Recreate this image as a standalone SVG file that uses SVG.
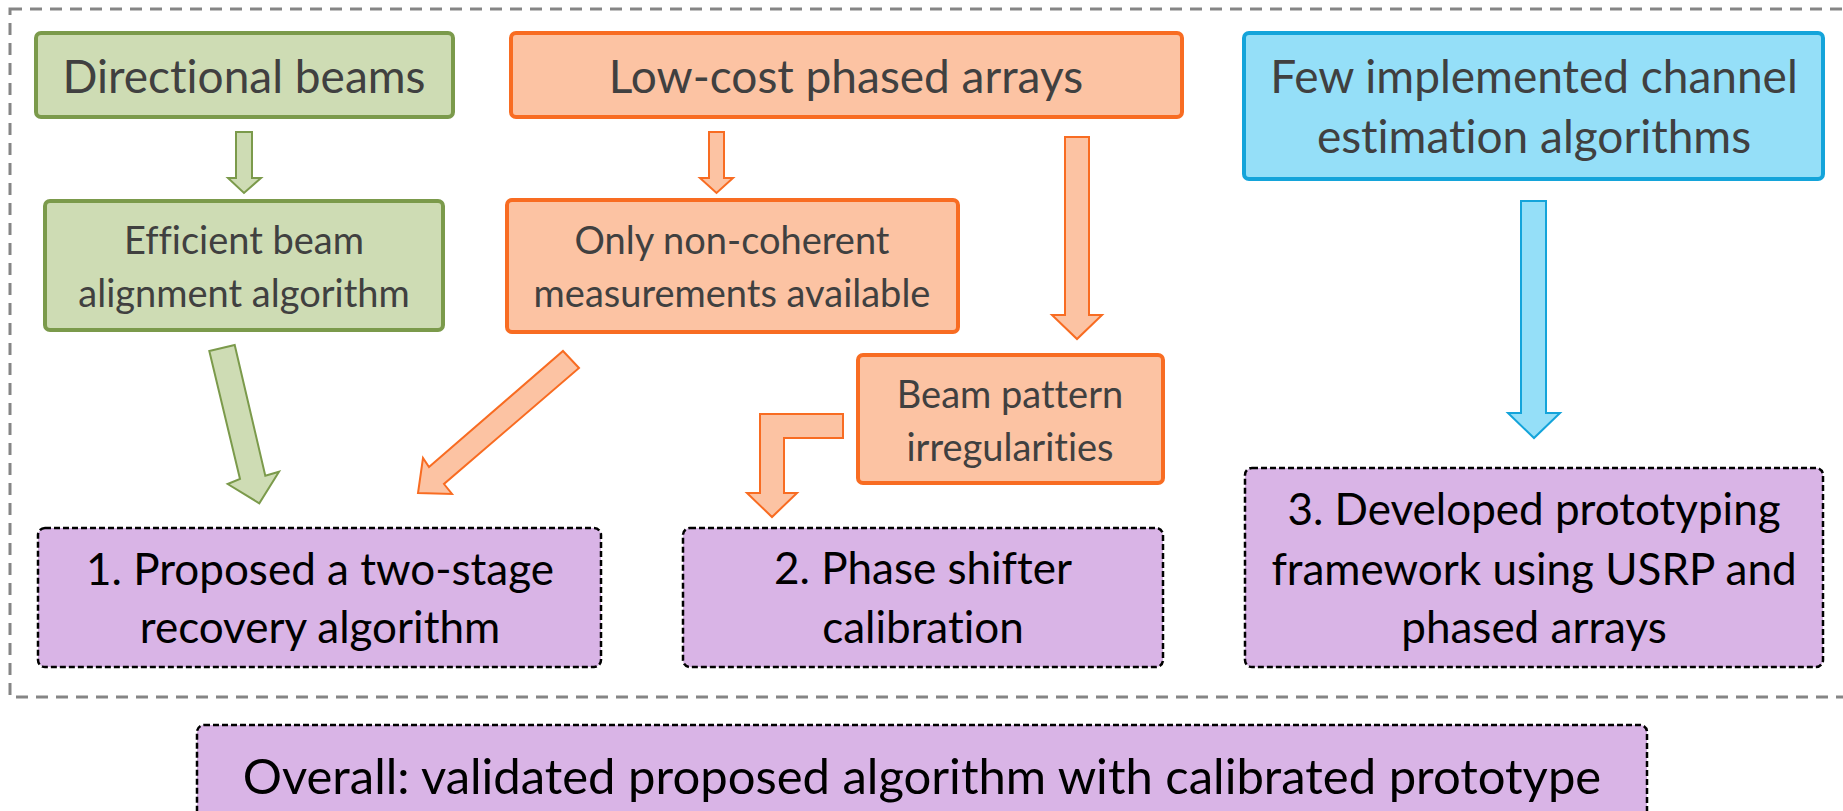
<svg xmlns="http://www.w3.org/2000/svg" width="1843" height="811" viewBox="0 0 1843 811">
<style>
  text { font-family: Lato, "Open Sans", "Liberation Sans", sans-serif; text-anchor: middle; font-variant-ligatures: none; }
  .t1 { font-size: 46px; fill: #404040; }
  .t2 { font-size: 38px; fill: #404040; }
  .t3 { font-size: 44px; fill: #000; }
  .t4 { font-size: 49px; fill: #000; }
  .green { fill: #CEDCB4; stroke: #7B9A4B; }
  .orange { fill: #FCC3A3; stroke: #F86C22; }
  .blue { fill: #95DFF8; stroke: #14A4DA; }
  .box { stroke-width: 4; }
  .res { fill: #D9B4E6; stroke: #000; stroke-width: 2.5; stroke-dasharray: 6 3; }
  .arr { stroke-width: 2; stroke-linejoin: miter; }
</style>
<rect x="0" y="0" width="1843" height="811" fill="#fff"/>
<rect id="frame" x="10" y="9" width="1845" height="688" fill="none" stroke="#858585" stroke-width="3" stroke-dasharray="12 8"/>

<g id="directional-beams">
  <rect class="green box" x="36" y="33" width="417" height="84" rx="5"/>
  <text class="t1" x="244" y="93">Directional beams</text>
</g>
<g id="low-cost-phased-arrays">
  <rect class="orange box" x="511" y="33" width="671" height="84" rx="5"/>
  <text class="t1" x="846" y="93">Low-cost phased arrays</text>
</g>
<g id="few-implemented">
  <rect class="blue box" x="1244" y="33" width="579" height="146" rx="5"/>
  <text class="t1" x="1534" y="93">Few implemented channel</text>
  <text class="t1" x="1534" y="153">estimation algorithms</text>
</g>
<g id="efficient-beam">
  <rect class="green box" x="45" y="201" width="398" height="129" rx="5"/>
  <text class="t2" x="244" y="254">Efficient beam</text>
  <text class="t2" x="244" y="307">alignment algorithm</text>
</g>
<g id="non-coherent">
  <rect class="orange box" x="507" y="200" width="451" height="132" rx="5"/>
  <text class="t2" x="732" y="254">Only non-coherent</text>
  <text class="t2" x="732" y="307">measurements available</text>
</g>
<g id="beam-pattern">
  <rect class="orange box" x="858" y="355" width="305" height="128" rx="5"/>
  <text class="t2" x="1010" y="408">Beam pattern</text>
  <text class="t2" x="1010" y="461">irregularities</text>
</g>
<g id="result-1">
  <rect class="res" x="38" y="528" width="563" height="139" rx="7"/>
  <text class="t3" x="320" y="585">1. Proposed a two-stage</text>
  <text class="t3" x="320" y="643">recovery algorithm</text>
</g>
<g id="result-2">
  <rect class="res" x="683" y="528" width="480" height="139" rx="7"/>
  <text class="t3" x="923" y="584">2. Phase shifter</text>
  <text class="t3" x="923" y="643">calibration</text>
</g>
<g id="result-3">
  <rect class="res" x="1245" y="468" width="578" height="199" rx="7"/>
  <text class="t3" x="1534" y="525">3. Developed prototyping</text>
  <text class="t3" x="1534" y="585">framework using USRP and</text>
  <text class="t3" x="1534" y="643">phased arrays</text>
</g>
<g id="overall">
  <rect class="res" x="197" y="725" width="1450" height="100" rx="7"/>
  <text class="t4" x="922" y="794">Overall: validated proposed algorithm with calibrated prototype</text>
</g>

<g id="connectors">
  <polygon class="green arr" points="236,132 252,132 252,178 261,178 244,193 228,178 236,178"/>
  <polygon class="orange arr" points="709,132 724,132 724,178 733,178 716.5,193 700,178 709,178"/>
  <polygon class="orange arr" points="1065,137 1089,137 1089,315 1102,315 1077,339 1052,315 1065,315"/>
  <polygon class="blue arr" points="1521,201 1546,201 1546,413 1560,413 1534,438 1508,413 1521,413"/>
  <polygon class="green arr" points="209.3,351 234.7,345 265.3,475.7 279,471.7 259.3,503.3 227.7,484 240,479"/>
  <polygon class="orange arr" points="563,351 579,368 444,484 452,494 418,493 423,458 429,467"/>
  <polygon class="orange arr" points="843,414 843,438 784,438 784,493 797,493 772,517 747,493 760,493 760,414"/>
</g>
</svg>
